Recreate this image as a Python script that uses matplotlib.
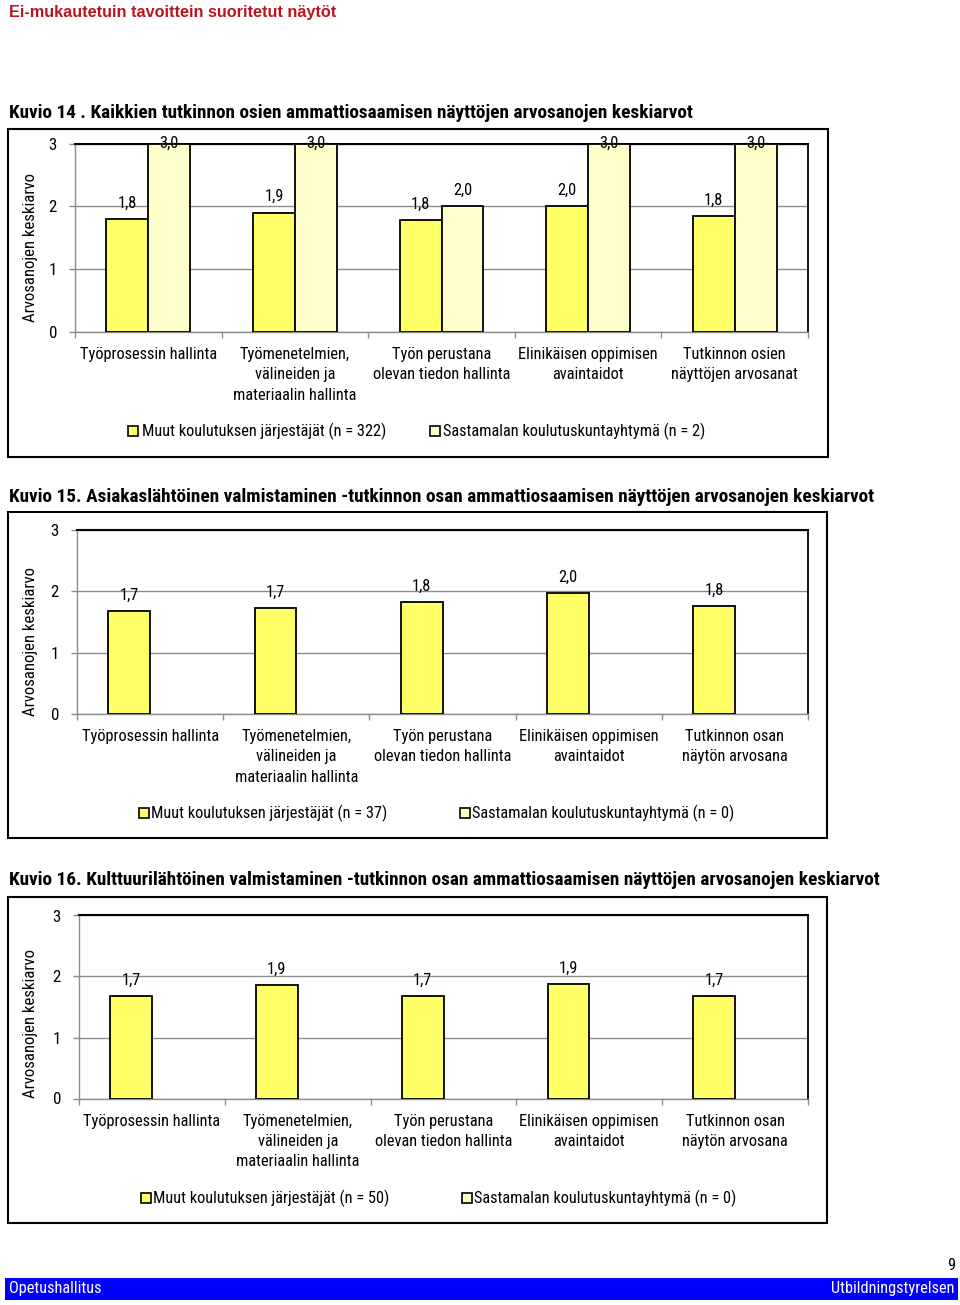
import numpy as np
import matplotlib
matplotlib.use("Agg")
import matplotlib.pyplot as plt
from matplotlib import font_manager
from matplotlib.patches import Rectangle

# --- data ---
cats_14 = ["Työprosessin hallinta",
           "Työmenetelmien,\nvälineiden ja\nmateriaalin hallinta",
           "Työn perustana\nolevan tiedon hallinta",
           "Elinikäisen oppimisen\navaintaidot",
           "Tutkinnon osien\nnäyttöjen arvosanat"]
cats_15 = ["Työprosessin hallinta",
           "Työmenetelmien,\nvälineiden ja\nmateriaalin hallinta",
           "Työn perustana\nolevan tiedon hallinta",
           "Elinikäisen oppimisen\navaintaidot",
           "Tutkinnon osan\nnäytön arvosana"]
cats_16 = cats_15

muut_14 = [1.80, 1.90, 1.78, 2.00, 1.84]
sast_14 = [3.0, 3.0, 2.0, 3.0, 3.0]
muut_15 = [1.68, 1.73, 1.83, 1.97, 1.76]
sast_15 = [np.nan, np.nan, np.nan, np.nan, np.nan]   # n = 0
muut_16 = [1.68, 1.86, 1.68, 1.88, 1.68]
sast_16 = [np.nan, np.nan, np.nan, np.nan, np.nan]   # n = 0

legend_14 = ["Muut koulutuksen järjestäjät (n = 322)", "Sastamalan koulutuskuntayhtymä (n = 2)"]
legend_15 = ["Muut koulutuksen järjestäjät (n = 37)", "Sastamalan koulutuskuntayhtymä (n = 0)"]
legend_16 = ["Muut koulutuksen järjestäjät (n = 50)", "Sastamalan koulutuskuntayhtymä (n = 0)"]

title_14 = "Kuvio 14 . Kaikkien tutkinnon osien ammattiosaamisen näyttöjen arvosanojen keskiarvot"
title_15 = "Kuvio 15. Asiakaslähtöinen valmistaminen -tutkinnon osan ammattiosaamisen näyttöjen arvosanojen keskiarvot"
title_16 = "Kuvio 16. Kulttuurilähtöinen valmistaminen -tutkinnon osan ammattiosaamisen näyttöjen arvosanojen keskiarvot"

ylab = "Arvosanojen keskiarvo"
yticks = [0, 1, 2, 3]

# --- fonts (narrow face if there is one, else scale Liberation Sans to the same widths) ---
names = {f.name for f in font_manager.fontManager.ttflist}
NARROW = None
for cand in ("Liberation Sans Narrow", "Arial Narrow", "Roboto Condensed"):
    if cand in names:
        NARROW = cand
        break
if NARROW == "Roboto Condensed":
    FS, TFS, LS, FFS = 11.8, 13.85, 1.43, 11.8
elif NARROW:
    FS, TFS, LS, FFS = 11, 13, 1.3, 11
else:
    NARROW, FS, TFS, LS, FFS = "Liberation Sans", 10.4, 11.8, 1.6, 10.5
plt.rcParams["font.family"] = [NARROW, "DejaVu Sans"]

YELLOW = "#FFFF66"
LIGHT = "#FFFFCC"
GRID = "#8c8c8c"

W, H = 960, 1305
fig = plt.figure(figsize=(W / 100, H / 100), dpi=100)


def fx(x):
    return x / W


def fy(y):
    return 1 - y / H


def rect(x0, y0, x1, y1, **kw):
    fig.patches.append(Rectangle((fx(x0), fy(y1)), fx(x1) - fx(x0), fy(y0) - fy(y1),
                                 transform=fig.transFigure, **kw))


def chart(box, plot, title, title_y, cats, s1, s2, labels, leg_x, leg_y, ylab_y):
    rect(*box, fill=False, edgecolor="black", lw=1.5)
    fig.text(fx(9), fy(title_y), title, fontsize=TFS, fontweight="bold", va="center", ha="left")

    l, t, r, b = plot
    ax = fig.add_axes([fx(l), fy(b), fx(r) - fx(l), fy(t) - fy(b)])
    x = np.arange(len(cats))
    w = 1 / 3.5
    bars1 = ax.bar(x - w / 2, s1, w, color=YELLOW, edgecolor="black", lw=1.3, zorder=3)
    bars2 = ax.bar(x + w / 2, s2, w, color=LIGHT, edgecolor="black", lw=1.3, zorder=3)

    for bars, vals in ((bars1, s1), (bars2, s2)):
        for bar, v in zip(bars, vals):
            if not np.isfinite(v):
                continue
            cx = bar.get_x() + bar.get_width() / 2
            txt = f"{v:.1f}".replace(".", ",")
            if v > 2.75:
                ax.text(cx, 3, txt, ha="center", va="center", fontsize=FS, zorder=4)
            else:
                ax.annotate(txt, (cx, v), xytext=(0, 6), textcoords="offset points",
                            ha="center", va="bottom", fontsize=FS, zorder=4)

    ax.set_xlim(-0.5, len(cats) - 0.5)
    ax.set_ylim(0, 3)
    ax.set_yticks(yticks)
    ax.yaxis.grid(True, color=GRID, lw=1, zorder=0)
    ax.set_axisbelow(True)
    ax.set_xticks(x)
    ax.set_xticklabels(cats, fontsize=FS, linespacing=LS)
    ax.set_xticks(np.arange(-0.5, len(cats)), minor=True)
    ax.tick_params(axis="x", which="major", length=0, pad=11)
    ax.tick_params(axis="x", which="minor", length=4, color=GRID, width=1)
    ax.tick_params(axis="y", length=4, color=GRID, width=1, pad=9, labelsize=FS + 0.4)
    for s in ("left", "bottom"):
        ax.spines[s].set_color(GRID)
        ax.spines[s].set_linewidth(1)
    ax.spines["top"].set_color("black")
    ax.spines["top"].set_linewidth(1.5)
    ax.spines["right"].set_color("black")
    ax.spines["right"].set_linewidth(1.3)

    fig.text(fx(31), fy(ylab_y), ylab, rotation=90, ha="center", va="center", fontsize=FS + 0.3)

    # legend
    for (sx, tx), lab, col in zip(leg_x, labels, (YELLOW, LIGHT)):
        rect(sx, leg_y - 5, sx + 10, leg_y + 5, facecolor=col, edgecolor="black", lw=1.2)
        fig.text(fx(tx), fy(leg_y), lab, fontsize=FS, ha="left", va="center")
    return ax


# header
fig.text(fx(9), fy(12), "Ei-mukautetuin tavoittein suoritetut näytöt", color="#BA1420",
         fontsize=11.7, fontweight="bold", family="Liberation Sans", va="center")

chart((8, 129, 828, 457), (75, 143.5, 808, 332), title_14, 113, cats_14, muut_14, sast_14,
      legend_14, [(128, 142), (430, 443)], 431, 248)
chart((8, 512, 827, 838), (77, 530, 808, 714), title_15, 497, cats_15, muut_15, sast_15,
      legend_15, [(139, 151), (460, 472)], 813, 641)
chart((8, 897, 827, 1223), (79, 915.5, 808, 1098.5), title_16, 880, cats_16, muut_16, sast_16,
      legend_16, [(141, 153), (462, 474)], 1198, 1024)

# footer
fig.text(fx(955), fy(1266), "9", fontsize=FFS, ha="right", va="center")
rect(5, 1278, 958, 1300, facecolor="#0000FF", edgecolor="none")
fig.text(fx(9), fy(1289), "Opetushallitus", color="white", fontsize=FFS, va="center")
fig.text(fx(954), fy(1289), "Utbildningstyrelsen", color="white", fontsize=FFS,
         va="center", ha="right")

fig.savefig("out.png", dpi=100)
